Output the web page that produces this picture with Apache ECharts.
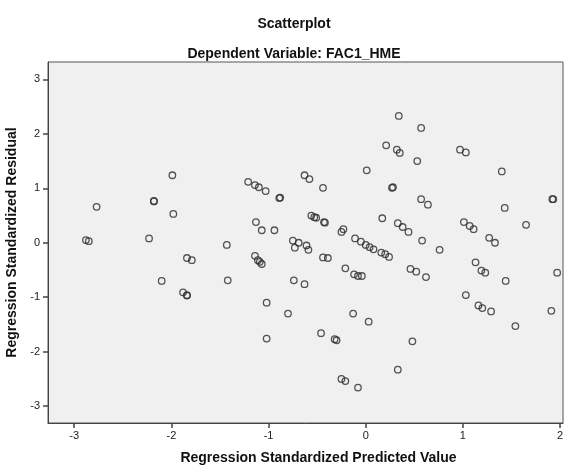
<!DOCTYPE html>
<html>
<head>
<meta charset="utf-8">
<script src="https://cdn.jsdelivr.net/npm/echarts@6/dist/echarts.min.js"></script>
<style>
  html, body { margin: 0; padding: 0; background: #fff; }
  #chart { width: 566px; height: 468px; }
</style>
</head>
<body>
<div id="chart"></div>
<script>
/* ---- data ---- */
const predicted = [
  -2.88, -2.85, -2.77, -2.23, -2.18, -2.18, -1.99, -1.98, -2.10, -1.84,
  -1.79, -1.88, -1.84, -1.84, -1.43, -1.42, -1.21, -1.14, -1.10, -1.03,
  -1.13, -1.07, -0.94, -0.89, -0.88, -1.14, -1.11, -1.09, -1.07, -1.02,
  -1.02, -0.80, -0.75, -0.69, -0.73, -0.61, -0.59, -0.74, -0.63, -0.63,
  -0.58, -0.44, -0.56, -0.53, -0.51, -0.43, -0.42, -0.44, -0.39, -0.46,
  -0.32, -0.30, -0.25, -0.23, -0.25, -0.21, -0.21, -0.12, -0.08, -0.04,
  -0.13, -0.08, -0.11, -0.05, 0.00, 0.04, 0.08, 0.01, 0.03, 0.16,
  0.20, 0.24, 0.17, 0.21, 0.27, 0.28, 0.32, 0.35, 0.34, 0.33,
  0.38, 0.44, 0.33, 0.46, 0.52, 0.62, 0.48, 0.53, 0.57, 0.57,
  0.64, 0.58, 0.76, 0.97, 1.03, 1.01, 1.07, 1.11, 1.03, 1.13,
  1.19, 1.23, 1.16, 1.20, 1.27, 1.33, 1.29, 1.40, 1.43, 1.44,
  1.54, 1.65, 1.92, 1.93, 1.91, 1.97
];
const residual = [
  0.05, 0.03, 0.66, 0.08, 0.76, 0.77, 1.24, 0.53, -0.70, -0.28,
  -0.32, -0.91, -0.96, -0.97, -0.04, -0.69, 1.12, 1.06, 1.02, 0.95,
  0.38, 0.23, 0.23, 0.82, 0.83, -0.24, -0.32, -0.35, -0.39, -1.10,
  -1.76, -1.30, 0.04, 0.00, -0.09, -0.05, -0.13, -0.69, -0.76, 1.24,
  1.17, 1.01, 0.50, 0.47, 0.46, 0.38, 0.37, -0.27, -0.28, -1.66,
  -1.77, -1.79, 0.20, 0.25, -2.50, -2.54, -0.47, -0.58, -0.61, -0.61,
  -1.30, -2.66, 0.08, 0.02, -0.04, -0.08, -0.12, 1.33, -1.45, -0.18,
  -0.21, -0.26, 0.45, 1.79, 1.01, 1.02, 1.71, 1.65, 2.33, 0.36,
  0.29, 0.20, -2.33, -0.48, -0.53, -0.63, -1.81, 1.50, 2.11, 0.80,
  0.70, 0.04, -0.13, 1.71, 1.66, 0.38, 0.31, 0.25, -0.96, -0.36,
  -0.51, -0.55, -1.15, -1.20, 0.09, 0.00, -1.26, 1.31, 0.64, -0.70,
  -1.53, 0.33, 0.80, 0.80, -1.25, -0.55
];
const xTicks = [-3, -2, -1, 0, 1, 2];
const yTicks = [-3, -2, -1, 0, 1, 2, 3];

const FONT = "Liberation Sans, Arial, sans-serif";
const points = predicted.map((x, i) => [x, residual[i]]);

const axisBase = {
  axisLine: { show: true, onZero: false, lineStyle: { color: "#444", width: 1 } },
  axisTick: { show: true, length: 5, lineStyle: { color: "#444", width: 1.5 } },
  axisLabel: { color: "#222", fontSize: 11, fontFamily: FONT },
  splitLine: { show: false },
  nameLocation: "middle",
  nameTextStyle: { color: "#111", fontSize: 14, fontWeight: "bold", fontFamily: FONT },
};

const chart = echarts.init(document.getElementById("chart"), null, { renderer: "canvas" });
chart.setOption({
  animation: false,
  backgroundColor: "#fff",
  grid: {
    left: 48, right: 3, top: 62, bottom: 45,
    outerBoundsMode: "none",
    show: true, backgroundColor: "#F0F0F0", borderColor: "#555", borderWidth: 1,
  },
  graphic: [
    { type: "text", x: 294, y: 17, style: { text: "Scatterplot", fill: "#111", font: "bold 14px " + FONT, textAlign: "center" } },
    { type: "text", x: 294, y: 47, style: { text: "Dependent Variable: FAC1_HME", fill: "#111", font: "bold 14px " + FONT, textAlign: "center" } },
  ],
  xAxis: Object.assign({}, axisBase, {
    type: "value", min: -3.27, max: 2.03,
    name: "Regression Standardized Predicted Value", nameGap: 28,
    nameTextStyle: Object.assign({}, axisBase.nameTextStyle, { padding: [0, 0, 0, 26] }),
    axisTick: Object.assign({}, axisBase.axisTick, { customValues: xTicks }),
    axisLabel: Object.assign({}, axisBase.axisLabel, { customValues: xTicks, margin: 7 }),
  }),
  yAxis: Object.assign({}, axisBase, {
    type: "value", min: -3.31, max: 3.32,
    name: "Regression Standardized Residual", nameGap: 26,
    axisTick: Object.assign({}, axisBase.axisTick, { customValues: yTicks }),
    axisLabel: Object.assign({}, axisBase.axisLabel, { customValues: yTicks, margin: 8 }),
  }),
  series: [{
    type: "scatter",
    data: points,
    symbol: "circle",
    symbolSize: 6.5,
    itemStyle: { color: "rgba(0,0,0,0)", borderColor: "#2a2a2a", borderWidth: 1.3 },
  }],
});
</script>
</body>
</html>
